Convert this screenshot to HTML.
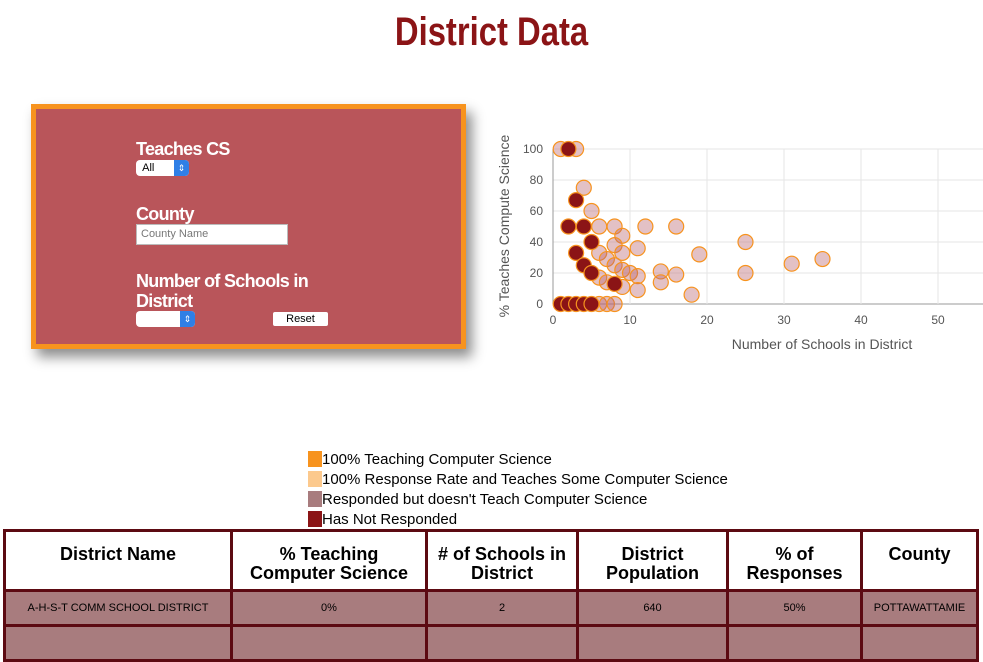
<!DOCTYPE html>
<html><head><meta charset="utf-8"><style>
body{margin:0;width:983px;height:634px;overflow:hidden;background:#fff;font-family:"Liberation Sans",sans-serif;position:relative}
.abs{position:absolute}
h1{position:absolute;left:0;width:983px;top:10px;margin:0;text-align:center;color:#8b1416;font-family:"Liberation Sans Narrow","Liberation Sans",sans-serif;font-stretch:condensed;font-size:40px;font-weight:bold;transform:scaleX(0.82)}
#panel{left:31px;top:104px;width:425px;height:235px;background:#b9555a;border:5px solid #f7931e;box-shadow:6px 8px 12px rgba(0,0,0,.45)}
.lbl{position:absolute;left:100px;color:#fff;font-weight:bold;font-size:18px;line-height:20px;letter-spacing:-0.7px}
.sel{position:absolute;height:16px;background:#fff;border-radius:4px;font-size:11px;line-height:16px;overflow:hidden}
.sel span{position:absolute;right:0;top:0;width:15px;height:16px;background:#2f7fe6;color:#fff;font-size:9px;text-align:center}
table{position:absolute;left:3px;top:529px;border-collapse:collapse;table-layout:fixed;width:976px;font-family:"Liberation Sans Narrow","Liberation Sans",sans-serif}
th,td{border:3px solid #5c0a12;text-align:center;padding:0}
th{height:57px;font-size:18px;line-height:19px;background:#fff;vertical-align:top;padding-top:13px;height:44px}
td{height:32px;background:#a87c7e;font-size:11px}
.leg{position:absolute;left:308px;font-size:15px;font-family:"Liberation Sans Narrow","Liberation Sans",sans-serif;font-stretch:condensed;height:20px;line-height:20px}
.leg i{display:inline-block;width:14px;height:16px;vertical-align:-3px}
</style></head><body>
<h1>District Data</h1>
<div id="panel" class="abs">
<div class="lbl" style="top:30px">Teaches CS</div>
<div class="sel" style="left:100px;top:51px;width:53px">&nbsp;&nbsp;All<span>⇕</span></div>
<div class="lbl" style="top:95px">County</div>
<div class="abs" style="left:100px;top:115px;width:146px;height:19px;background:#fff;border:1px solid #bbb;font-size:11px;line-height:19px;color:#777;padding-left:4px">County Name</div>
<div class="lbl" style="top:162px">Number of Schools in<br>District</div>
<div class="sel" style="left:100px;top:202px;width:59px"><span>⇕</span></div>
<div class="abs" style="left:237px;top:203px;width:55px;height:14px;background:#fff;border-radius:2px;font-size:11px;line-height:14px;text-align:center">Reset</div>
</div>
<svg class="abs" style="left:0;top:0" width="983" height="450" id="chart"></svg>
<div class="leg" style="top:450px"><i style="background:#f7931e"></i>100% Teaching Computer Science</div>
<div class="leg" style="top:470px"><i style="background:#fcc98d"></i>100% Response Rate and Teaches Some Computer Science</div>
<div class="leg" style="top:490px"><i style="background:#a87c7e"></i>Responded but doesn't Teach Computer Science</div>
<div class="leg" style="top:510px"><i style="background:#8b1416"></i>Has Not Responded</div>
<table>
<colgroup><col style="width:227px"><col style="width:195px"><col style="width:151px"><col style="width:150px"><col style="width:134px"><col style="width:116px"></colgroup>
<tr><th>District Name</th><th>% Teaching<br>Computer Science</th><th># of Schools in<br>District</th><th>District<br>Population</th><th>% of<br>Responses</th><th>County</th></tr>
<tr><td>A-H-S-T COMM SCHOOL DISTRICT</td><td>0%</td><td>2</td><td>640</td><td>50%</td><td>POTTAWATTAMIE</td></tr>
<tr><td></td><td></td><td></td><td></td><td></td><td></td></tr>
</table>
<script>
const xTicks=[0,10,20,30,40,50];
const yTicks=[0,20,40,60,80,100];
const lightX=[1,3,4,5,6,8,12,16,9,25,8,11,6,9,19,7,35,31,8,9,10,14,11,16,25,6,7,14,9,11,18,6,7,8];
const lightY=[100,100,75,60,50,50,50,50,44,40,38,36,33,33,32,29,29,26,25,22,20,21,18,19,20,17,14,14,11,9,6,0,0,0];
const darkX=[2,3,2,4,5,3,4,5,8,1,2,3,4,5];
const darkY=[100,67,50,50,40,33,25,20,13,0,0,0,0,0];
const NS="http://www.w3.org/2000/svg",svg=document.getElementById('chart');
const X0=553,XS=7.7,Y0=304,YS=1.55;
const sx=v=>X0+v*XS, sy=v=>Y0-v*YS;
function mk(t,a){const e=document.createElementNS(NS,t);for(const k in a)e.setAttribute(k,a[k]);svg.appendChild(e);return e;}
yTicks.forEach(v=>{const l=mk('line',{x1:X0,x2:983,y1:sy(v),y2:sy(v),stroke:v?'#e6e6e6':'#999'});


const t=mk('text',{x:X0-10,y:sy(v)+4,'text-anchor':'end','font-size':12,fill:'#555'});t.textContent=v;

});
xTicks.forEach(v=>{const l=mk('line',{x1:sx(v),x2:sx(v),y1:sy(100),y2:Y0,stroke:v?'#e6e6e6':'#999'});


const t=mk('text',{x:sx(v),y:Y0+20,'text-anchor':'middle','font-size':12,fill:'#555'});t.textContent=v;

});
let t=mk('text',{x:822,y:349,'text-anchor':'middle','font-size':14,fill:'#555'});t.textContent='Number of Schools in District';


t=mk('text',{x:0,y:0,'text-anchor':'middle','font-size':14,fill:'#555',transform:'translate(509,226) rotate(-90)'});t.textContent='% Teaches Compute Science';


lightX.forEach((x,i)=>{const c=mk('circle',{cx:sx(x),cy:sy(lightY[i]),r:7.5,fill:'rgba(185,100,110,0.4)',stroke:'#f7931e','stroke-width':1.2});

});
darkX.forEach((x,i)=>{const c=mk('circle',{cx:sx(x),cy:sy(darkY[i]),r:7.5,fill:'#8b1416',stroke:'#f7931e','stroke-width':1.2});

});
</script>
</body></html>
